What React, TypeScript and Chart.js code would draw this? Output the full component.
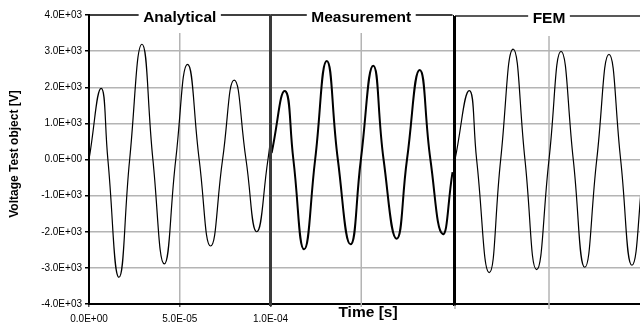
import React, { useEffect, useRef } from 'react';
import { Chart, registerables } from 'chart.js';

Chart.register(...registerables);

const FONT = "'Liberation Sans', Arial, Helvetica, sans-serif";

// ---- text ----
const panelTitles = ['Analytical', 'Measurement', 'FEM'];
const yTitle = 'Voltage Test object [V]';
const xTitle = 'Time [s]';

// ---- axes ----
const xTickValues = [0, 5e-5, 1e-4];
const yMin = -4000;
const yMax = 4000;
const yStep = 1000;

// ---- Analytical (time in microseconds, voltage in V) ----
const analyticalTimeUs = [0, 6.7, 10.4, 16.5, 22.4, 29.2, 35.2, 41.5, 47.8, 54.3, 60.7, 67.0, 73.6, 80.0, 86.5, 92.4, 98.6, 100];
const analyticalVolts = [0, 1970, 0, -3260, 0, 3190, 0, -2890, 0, 2635, 0, -2395, 0, 2200, 0, -2000, 0, 550];

// ---- Measurement (time in microseconds from panel start, voltage in V) ----
const measurementTimeUs = [0.6, 8.0, 12.6, 18.5, 24.6, 31.0, 37.1, 44.1, 49.8, 56.6, 62.3, 69.5, 75.2, 82.2, 88.1, 94.8, 100.3];
const measurementVolts = [180, 1896, 0, -2486, 0, 2727, 0, -2348, 0, 2597, 0, -2192, 0, 2478, 0, -2062, -350];

// ---- FEM (time in microseconds from panel start, voltage in V) ----
const femTimeUs = [0, 7.6, 11.5, 18.2, 24.3, 30.9, 37.2, 43.4, 50.0, 56.4, 62.9, 69.0, 75.4, 81.9, 88.1, 94.1, 100.5];
const femVolts = [0, 1906, 0, -3130, 0, 3058, 0, -3047, 0, 2994, 0, -2983, 0, 2912, 0, -2928, 0];

// ---- layout constants (axis windows) ----
const X_MAX = 3.0358e-4; // analytical axis window
const XM_MIN = -1e-4;
const XM_MAX = 2.0358e-4;
const XF_MIN = -1.9468e-4;
const XF_MAX = 0.9840e-4;
const MEAS_END = 1.003e-4;

const GRID = '#b4b4b4';
const TENSION = 0.5;

function sci(v: number): string {
  if (Math.abs(v) < 1e-20) return '0.0E+00';
  const s = v.toExponential(1);
  const [m, e] = s.split('e');
  const n = parseInt(e, 10);
  const sign = n < 0 ? '-' : '+';
  return `${m}E${sign}${String(Math.abs(n)).padStart(2, '0')}`;
}

function toPoints(tUs: number[], v: number[]) {
  return tUs.map((t, i) => ({ x: t * 1e-6, y: v[i] }));
}

function seg(ctx: CanvasRenderingContext2D, x0: number, y0: number, x1: number, y1: number) {
  ctx.beginPath();
  ctx.moveTo(x0, y0);
  ctx.lineTo(x1, y1);
  ctx.stroke();
}

const panelsPlugin = {
  id: 'panels',
  beforeDatasetsDraw(chart: any) {
    const { ctx, chartArea: a, scales } = chart;
    const gm = scales.xM.getPixelForValue(5e-5);
    const gf = scales.xF.getPixelForValue(5e-5);
    const f0 = scales.xF.getPixelForValue(0);
    ctx.save();
    ctx.strokeStyle = GRID;
    ctx.lineWidth = 1.5;
    seg(ctx, gm, a.top, gm, a.bottom + 3);
    seg(ctx, gf, a.top, gf, a.bottom + 5);
    seg(ctx, f0, a.bottom, f0, a.bottom + 5);
    ctx.restore();
  },
  afterDraw(chart: any) {
    const { ctx, chartArea: a, scales } = chart;
    const x = scales.x;
    const xM = scales.xM;
    const xF = scales.xF;
    const aL = x.getPixelForValue(0);
    const aR = x.getPixelForValue(1e-4);
    const mR = xM.getPixelForValue(MEAS_END);
    const fL = xF.getPixelForValue(0);
    const centers = [x.getPixelForValue(5e-5), xM.getPixelForValue(5e-5), xF.getPixelForValue(5e-5)];
    ctx.save();
    ctx.font = `bold 15.5px ${FONT}`;
    const pad = 4.5;
    const gaps = panelTitles.map((t, i) => {
      const w = ctx.measureText(t).width;
      return [centers[i] - w / 2 - pad, centers[i] + w / 2 + pad];
    });
    // white boxes behind titles
    ctx.fillStyle = '#fff';
    gaps.forEach((g, i) => {
      ctx.fillRect(g[0], 0, g[1] - g[0], i === 2 ? 36 : 33);
    });
    // top borders
    ctx.strokeStyle = '#000';
    ctx.lineWidth = 1.5;
    const top = a.top;
    seg(ctx, aL, top, gaps[0][0], top);
    seg(ctx, gaps[0][1], top, aR, top);
    seg(ctx, aR, top, gaps[1][0], top);
    seg(ctx, gaps[1][1], top, mR, top);
    ctx.strokeStyle = '#222';
    seg(ctx, fL, top + 1, gaps[2][0], top + 1);
    seg(ctx, gaps[2][1], top + 1, a.right, top + 1);
    // titles
    ctx.fillStyle = '#000';
    ctx.textAlign = 'center';
    ctx.textBaseline = 'middle';
    panelTitles.forEach((t, i) => {
      ctx.fillText(t, centers[i], top + 3 + (i === 2 ? 1 : 0));
    });
    // x axis title
    ctx.fillText(xTitle, 368, 313);
    // y axis title
    ctx.save();
    ctx.font = `bold 12px ${FONT}`;
    ctx.translate(15, 154);
    ctx.rotate(-Math.PI / 2);
    ctx.fillText(yTitle, 0, 0);
    ctx.restore();
    // separator between analytical and measurement
    ctx.strokeStyle = '#3a3a3a';
    ctx.lineWidth = 3;
    seg(ctx, aR, top, aR, a.bottom + 2);
    // measurement right border
    ctx.strokeStyle = '#000';
    ctx.lineWidth = 1;
    seg(ctx, Math.round(mR) + 0.5, top, Math.round(mR) + 0.5, a.bottom + 2);
    // FEM left axis
    ctx.lineWidth = 2;
    seg(ctx, fL, top + 1, fL, a.bottom + 1.5);
    ctx.restore();
  },
};

export default function App() {
  const ref = useRef<HTMLCanvasElement | null>(null);

  useEffect(() => {
    if (!ref.current) return;
    const tickFont = { family: FONT, size: 10 };
    const lineStyle = {
      borderColor: '#000',
      pointRadius: 0,
      tension: TENSION,
      fill: false,
    };
    const chart = new Chart(ref.current, {
      type: 'line',
      data: {
        datasets: [
          {
            label: panelTitles[0],
            data: toPoints(analyticalTimeUs, analyticalVolts),
            xAxisID: 'x',
            yAxisID: 'y',
            borderWidth: 1.2,
            ...lineStyle,
          },
          {
            label: panelTitles[1],
            data: toPoints(measurementTimeUs, measurementVolts),
            xAxisID: 'xM',
            yAxisID: 'y',
            borderWidth: 2,
            ...lineStyle,
          },
          {
            label: panelTitles[2],
            data: toPoints(femTimeUs, femVolts),
            xAxisID: 'xF',
            yAxisID: 'y',
            borderWidth: 1.2,
            ...lineStyle,
          },
        ],
      },
      options: {
        animation: false,
        responsive: false,
        events: [],
        layout: { padding: { top: 15, right: 0, bottom: 0, left: 0 } },
        plugins: { legend: { display: false }, tooltip: { enabled: false } },
        scales: {
          x: {
            type: 'linear',
            position: 'bottom',
            min: 0,
            max: X_MAX,
            afterBuildTicks: (s: any) => {
              s.ticks = xTickValues.map((v) => ({ value: v }));
            },
            afterFit: (s: any) => {
              s.height = 20;
            },
            ticks: {
              callback: (v: any) => sci(Number(v)),
              font: tickFont,
              color: '#000',
              padding: 6,
              maxRotation: 0,
              autoSkip: false,
            },
            grid: {
              color: (c: any) => (c.tick && Math.abs(c.tick.value - 5e-5) < 1e-9 ? GRID : 'rgba(0,0,0,0)'),
              lineWidth: 1.5,
              tickLength: 3,
              tickColor: '#555',
            },
            border: { color: '#000', width: 2 },
            title: { display: false },
          },
          xM: { type: 'linear', display: false, min: XM_MIN, max: XM_MAX },
          xF: { type: 'linear', display: false, min: XF_MIN, max: XF_MAX },
          y: {
            type: 'linear',
            position: 'left',
            min: yMin,
            max: yMax,
            afterFit: (s: any) => {
              s.width = 89;
            },
            ticks: {
              stepSize: yStep,
              callback: (v: any) => sci(Number(v)),
              font: tickFont,
              color: '#000',
              padding: 3,
            },
            grid: {
              color: (c: any) =>
                c.tick && Math.abs(c.tick.value) < yMax - 1 ? GRID : 'rgba(0,0,0,0)',
              lineWidth: 1.5,
              tickLength: 4,
              tickColor: '#000',
            },
            border: { color: '#000', width: 2 },
            title: { display: false },
          },
        },
      },
      plugins: [panelsPlugin],
    } as any);
    return () => chart.destroy();
  }, []);

  return (
    <div style={{ position: 'absolute', left: 0, top: 0, width: 640, height: 324, background: '#fff' }}>
      <canvas ref={ref} width={640} height={324} style={{ display: 'block' }} />
    </div>
  );
}
